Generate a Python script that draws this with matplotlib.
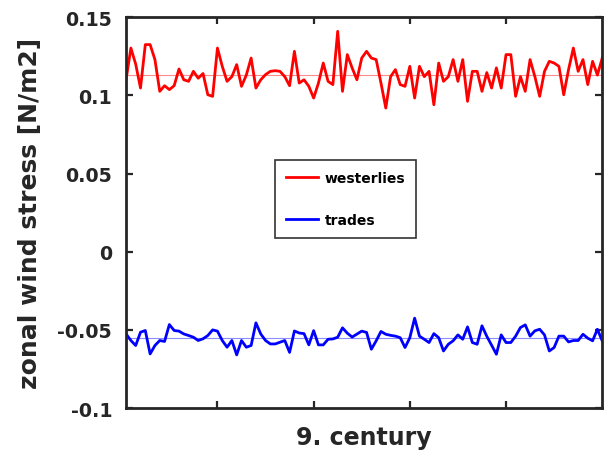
import matplotlib
matplotlib.use("Agg")
import matplotlib.pyplot as plt
import numpy as np

plt.rcParams['font.family'] = ['DejaVu Sans']
plt.rcParams['font.weight'] = 'bold'

years = np.arange(1, 101)

westerlies = [
    0.110, 0.1303, 0.1200, 0.1047, 0.1325, 0.1325, 0.1229, 0.1026, 0.1062, 0.1037,
    0.1062, 0.1169, 0.1100, 0.1090, 0.1154, 0.1110, 0.1140, 0.1004, 0.0994, 0.1303,
    0.1186, 0.1090, 0.1120, 0.1197, 0.1058, 0.1130, 0.1239, 0.1047, 0.1100, 0.1133,
    0.1154, 0.1158, 0.1154, 0.1120, 0.1062, 0.1282, 0.1079, 0.1100, 0.1058, 0.0983,
    0.1079, 0.1207, 0.1090, 0.1069, 0.1410, 0.1026, 0.1261, 0.1176, 0.1100, 0.1239,
    0.1282, 0.1239, 0.1229, 0.1079, 0.0919, 0.1120, 0.1165, 0.1069, 0.1058, 0.1186,
    0.0983, 0.1186, 0.1120, 0.1154, 0.0940, 0.1207, 0.1090, 0.1120, 0.1229, 0.1090,
    0.1229, 0.0962, 0.1154, 0.1154, 0.1026, 0.1146, 0.1047, 0.1176, 0.1047, 0.1261,
    0.1261, 0.0994, 0.1120, 0.1026, 0.1229, 0.1120, 0.0994, 0.1154, 0.1218, 0.1207,
    0.1186, 0.1004, 0.1165, 0.1303, 0.1154, 0.1229, 0.1069, 0.1218, 0.1130, 0.1239,
]

trades = [
    -0.0526, -0.0568, -0.0600, -0.0515, -0.0504, -0.0654, -0.0600, -0.0568, -0.0574, -0.0466,
    -0.0504, -0.0508, -0.0526, -0.0536, -0.0547, -0.0568, -0.0557, -0.0536, -0.0500, -0.0508,
    -0.0568, -0.0611, -0.0568, -0.0660, -0.0568, -0.0611, -0.0600, -0.0455, -0.0526, -0.0568,
    -0.0590, -0.0590, -0.0579, -0.0568, -0.0644, -0.0507, -0.0520, -0.0524, -0.0596, -0.0505,
    -0.0596, -0.0596, -0.0560, -0.0558, -0.0547, -0.0487, -0.0521, -0.0546, -0.0527, -0.0508,
    -0.0516, -0.0624, -0.0570, -0.0510, -0.0528, -0.0535, -0.0540, -0.0550, -0.0613, -0.0550,
    -0.0425, -0.0540, -0.0560, -0.0581, -0.0524, -0.0550, -0.0635, -0.0592, -0.0570, -0.0532,
    -0.0560, -0.0481, -0.0581, -0.0592, -0.0474, -0.0541, -0.0598, -0.0656, -0.0532, -0.0581,
    -0.0581, -0.0540, -0.0485, -0.0468, -0.0540, -0.0506, -0.0496, -0.0532, -0.0635, -0.0613,
    -0.0540, -0.0540, -0.0577, -0.0568, -0.0568, -0.0528, -0.0553, -0.0570, -0.0496, -0.0570,
]

mean_westerlies = 0.113
mean_trades = -0.055

yticks = [-0.1, -0.05, 0, 0.05, 0.1, 0.15]
ytick_labels = ['-0.1', '-0.05', '0', '0.05', '0.1', '0.15']
xticks = [20, 40, 60, 80]

fig = plt.figure(figsize=(6.12, 4.56), dpi=100)
ax = fig.add_axes([0.206, 0.103, 0.778, 0.857])

ax.axhline(mean_westerlies, color=(1.0, 0.55, 0.55), lw=0.8, zorder=1)
ax.axhline(mean_trades, color=(0.55, 0.55, 1.0), lw=0.8, zorder=1)
ax.plot(years, westerlies, color='red', lw=2.0, label='westerlies', zorder=2)
ax.plot(years, trades, color='blue', lw=2.0, label='trades', zorder=2)

ax.set_xlim(1, 100)
ax.set_ylim(-0.1, 0.15)
ax.set_yticks(yticks)
ax.set_yticklabels(ytick_labels)
ax.set_xticks(xticks)
ax.set_xticklabels([])

ax.tick_params(direction='in', length=5, width=1.6, top=True, right=True,
               labelsize=13.7, colors='#262626')
ax.tick_params(axis='y', pad=10)
ax.tick_params(axis='x', pad=2)
for s in ax.spines.values():
    s.set_linewidth(2.0)
    s.set_color('#262626')

ax.set_xlabel('9. century', fontsize=17, fontweight='bold', color='#262626', labelpad=10)
ax.set_ylabel('zonal wind stress [N/m2]', fontsize=18, fontweight='bold', color='#262626', labelpad=11)

leg = ax.legend(loc='center', bbox_to_anchor=(0.461, 0.5345), frameon=True, fancybox=False,
                edgecolor='black', handlelength=2.3, borderpad=0.8,
                labelspacing=2.0, handletextpad=0.5, prop={'weight': 'bold', 'size': 10})
leg.get_frame().set_linewidth(1.2)

fig.savefig('out.png', dpi=100)
